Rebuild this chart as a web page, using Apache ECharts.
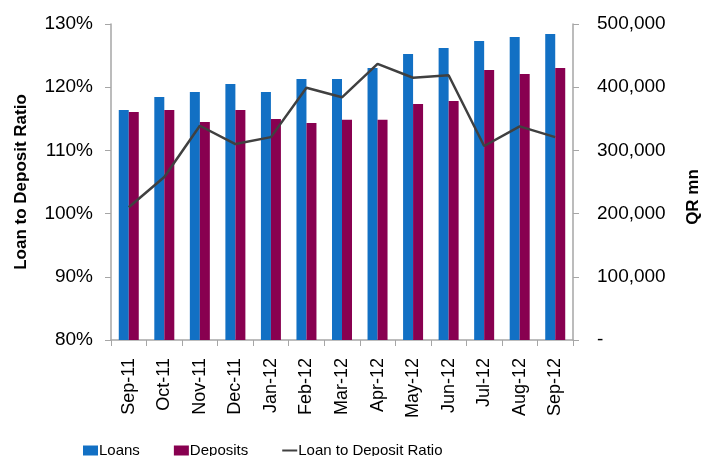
<!DOCTYPE html>
<html>
<head>
<meta charset="utf-8">
<script src="https://cdn.jsdelivr.net/npm/echarts@6/dist/echarts.min.js"></script>
<style>
    html, body { margin: 0; padding: 0; background: #fff; }
    #main { width: 710px; height: 456px; }
</style>
</head>
<body>
<div id="main"></div>
<script>
var months = ['Sep-11', 'Oct-11', 'Nov-11', 'Dec-11', 'Jan-12', 'Feb-12', 'Mar-12',
    'Apr-12', 'May-12', 'Jun-12', 'Jul-12', 'Aug-12', 'Sep-12'];
// QR mn
var loans = [364000, 384600, 392500, 405200, 392500, 413100, 413100,
    430400, 452600, 462100, 473100, 479500, 484200];
var deposits = [360900, 364000, 345100, 364000, 349800, 343500, 348300,
    348300, 373500, 378300, 427300, 421000, 430400];
// %
var ratio = [101.0, 105.8, 113.9, 111.0, 112.1, 119.9, 118.4,
    123.7, 121.5, 121.9, 110.7, 113.8, 112.1];

(function () {
    var myChart = echarts.init(document.getElementById('main'));
    var axisGray = '#a6a6a6';
    var font = 'Liberation Sans, Arial, sans-serif';

    var option = {
        animation: false,
        textStyle: { fontFamily: font, color: '#000' },
        color: ['#1270c4', '#880050', '#404040'],
        legend: {
            left: 78,
            top: 438,
            itemWidth: 15,
            itemHeight: 10,
            itemGap: 34,
            textStyle: {
                fontSize: 15,
                color: '#000',
                padding: [0, 0, 0, -4]
            },
            data: [
                { name: 'Loans', icon: 'rect' },
                { name: 'Deposits', icon: 'rect' },
                { name: 'Loan to Deposit Ratio', icon: 'path://M0,4 L15,4 L15,6 L0,6 Z' }
            ]
        },
        grid: {
            left: 111,
            right: 130,
            top: 24,
            bottom: 116
        },
        xAxis: {
            type: 'category',
            data: months,
            axisLine: { lineStyle: { color: axisGray, width: 1.5 } },
            axisTick: { show: true, length: 6, lineStyle: { color: axisGray } },
            axisLabel: {
                rotate: 90,
                fontSize: 18,
                color: '#000',
                margin: 18
            }
        },
        yAxis: [
            {
                type: 'value',
                min: 80,
                max: 130,
                interval: 10,
                name: 'Loan to Deposit Ratio',
                nameLocation: 'middle',
                nameGap: 81,
                nameTextStyle: { fontWeight: 'bold', fontSize: 17, color: '#000' },
                axisLine: { show: true, lineStyle: { color: axisGray, width: 1.5 } },
                axisTick: { show: true, length: 6, lineStyle: { color: axisGray } },
                splitLine: { show: false },
                axisLabel: {
                    fontSize: 19,
                    color: '#000',
                    margin: 18,
                    formatter: function (v) { return v + '%'; }
                }
            },
            {
                type: 'value',
                min: 0,
                max: 500000,
                interval: 100000,
                name: 'QR mn',
                nameLocation: 'middle',
                nameGap: 112,
                nameRotate: 90,
                nameTextStyle: {
                    fontWeight: 'bold',
                    fontSize: 17,
                    color: '#000',
                    padding: [0, 0, 0, -30]
                },
                axisLine: { show: true, lineStyle: { color: axisGray, width: 1.5 } },
                axisTick: { show: true, length: 6, lineStyle: { color: axisGray } },
                splitLine: { show: false },
                axisLabel: {
                    fontSize: 19,
                    color: '#000',
                    margin: 24,
                    formatter: function (v) {
                        if (v === 0) return '-';
                        return v.toLocaleString('en-US');
                    }
                }
            }
        ],
        series: [
            {
                name: 'Loans',
                type: 'bar',
                yAxisIndex: 1,
                barWidth: 10,
                barGap: '0%',
                data: loans
            },
            {
                name: 'Deposits',
                type: 'bar',
                yAxisIndex: 1,
                barWidth: 10,
                data: deposits
            },
            {
                name: 'Loan to Deposit Ratio',
                type: 'line',
                yAxisIndex: 0,
                symbol: 'none',
                lineStyle: { color: '#404040', width: 2.5 },
                data: ratio
            }
        ]
    };

    myChart.setOption(option);
})();
</script>
</body>
</html>
